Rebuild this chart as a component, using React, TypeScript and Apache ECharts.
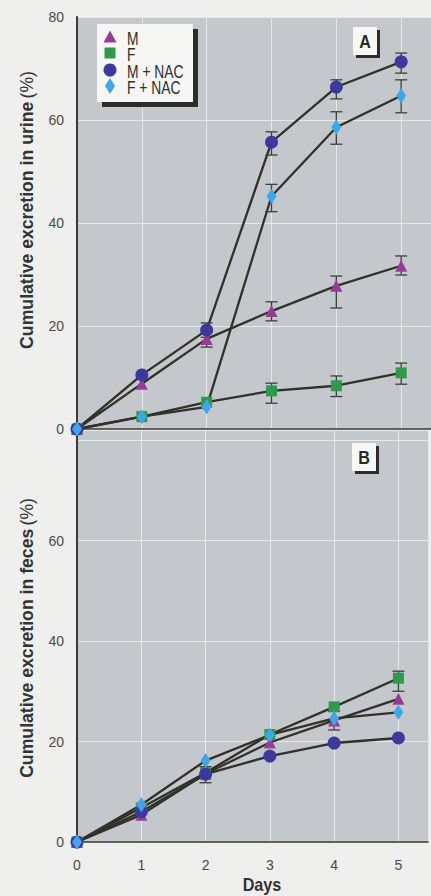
import React, { useEffect, useRef } from "react";
import * as echarts from "echarts";

// ---------- data ----------
const days = [0, 1, 2, 3, 4, 5];
const seriesNames = ["M", "F", "M + NAC", "F + NAC"];
const yTickStep = 20;

// Panel A: cumulative excretion in urine (%)
const urineM = [0, 8.8, 17.5, 22.9, 27.8, 31.7];
const urineMLow = [null, null, 15.9, 21.0, 23.5, 29.9];
const urineMHigh = [null, null, 18.8, 24.7, 29.7, 33.6];
const urineF = [0, 2.4, 5.2, 7.4, 8.4, 10.9];
const urineFLow = [null, null, null, 5.0, 6.3, 8.7];
const urineFHigh = [null, null, null, 8.9, 10.3, 12.8];
const urineMNAC = [0, 10.5, 19.2, 55.7, 66.4, 71.3];
const urineMNACLow = [null, null, 17.8, 53.2, 64.1, 69.1];
const urineMNACHigh = [null, null, 20.6, 57.7, 67.8, 73.0];
const urineFNAC = [0, 2.4, 4.3, 45.2, 58.6, 64.7];
const urineFNACLow = [null, null, null, 42.2, 55.3, 61.4];
const urineFNACHigh = [null, null, null, 47.5, 61.6, 67.8];

// Panel B: cumulative excretion in feces (%)
const fecesM = [0, 5.4, 13.6, 19.8, 24.2, 28.5];
const fecesMLow = [null, null, 11.8, null, 22.3, null];
const fecesMHigh = [null, null, 15.0, null, 26.0, null];
const fecesF = [0, 6.8, 13.8, 21.4, 26.9, 32.6];
const fecesFLow = [null, null, null, null, null, 30.0];
const fecesFHigh = [null, null, null, null, null, 34.0];
const fecesMNAC = [0, 6.0, 13.5, 17.1, 19.7, 20.7];
const fecesFNAC = [0, 7.4, 16.2, 21.3, 24.6, 25.8];

// ---------- styling ----------
const FONT = '"Liberation Sans", Arial, sans-serif';
const PLOT_BG = "#c4c7cb";
const GRID_LINE = "#e6e8ea";
const LINE = "#2e3229";
const AXIS = "#3a3d36";
const colors = ["#983a9a", "#2f9a4c", "#3b3a9c", "#3ea6ea"];
const symbols = ["triangle", "rect", "circle", "diamond"];
const symbolSizes: any[] = [12, 11, 13, [10, 15]];

function pairs(vals: number[]) {
  return days.map((d, i) => [d, vals[i]]);
}
function errData(lo: (number | null)[], hi: (number | null)[]) {
  const out: number[][] = [];
  days.forEach((d, i) => {
    if (lo[i] != null && hi[i] != null) out.push([d, lo[i] as number, hi[i] as number]);
  });
  return out;
}

function errorSeries(data: number[][], axis: number) {
  return {
    type: "custom",
    xAxisIndex: axis,
    yAxisIndex: axis,
    z: 3,
    silent: true,
    encode: { x: 0, y: [1, 2] },
    data,
    renderItem: (params: any, api: any) => {
      const x = api.value(0);
      const lo = api.coord([x, api.value(1)]);
      const hi = api.coord([x, api.value(2)]);
      const hw = 6;
      const st = { stroke: "#3c3f3a", lineWidth: 1.3 };
      return {
        type: "group",
        children: [
          { type: "line", shape: { x1: lo[0], y1: lo[1], x2: hi[0], y2: hi[1] }, style: st },
          { type: "line", shape: { x1: lo[0] - hw, y1: lo[1], x2: lo[0] + hw, y2: lo[1] }, style: st },
          { type: "line", shape: { x1: hi[0] - hw, y1: hi[1], x2: hi[0] + hw, y2: hi[1] }, style: st },
        ],
      };
    },
  };
}

function lineSeries(vals: number[], axis: number, name: string) {
  return {
    type: "line",
    name,
    xAxisIndex: axis,
    yAxisIndex: axis,
    data: pairs(vals),
    showSymbol: false,
    z: 2,
    silent: true,
    lineStyle: { color: LINE, width: 2.3 },
  };
}

function markerSeries(vals: number[], axis: number, k: number) {
  return {
    type: "scatter",
    name: seriesNames[k],
    xAxisIndex: axis,
    yAxisIndex: axis,
    data: pairs(vals),
    symbol: symbols[k],
    symbolSize: symbolSizes[k],
    z: 4 + k,
    itemStyle: { color: colors[k], opacity: 1 },
  };
}

function xAxis(gridIndex: number, showLabels: boolean) {
  return {
    type: "value",
    gridIndex,
    min: 0,
    max: 5.46,
    interval: 1,
    axisLine: { show: true, onZero: false, lineStyle: { color: AXIS, width: 1.6 } },
    axisTick: { show: false },
    splitLine: { show: true, lineStyle: { color: GRID_LINE, width: 1 } },
    axisLabel: {
      show: showLabels,
      margin: 16,
      fontFamily: FONT,
      fontSize: 14,
      color: "#4a4a48",
      formatter: (v: number) => (Number.isInteger(v) && v <= 5 ? String(v) : ""),
    },
  };
}

function yAxis(gridIndex: number, max: number, labelMax: number) {
  return {
    type: "value",
    gridIndex,
    min: 0,
    max,
    interval: yTickStep,
    axisLine: { show: true, onZero: false, lineStyle: { color: AXIS, width: 2 } },
    axisTick: { show: false },
    splitLine: { show: true, lineStyle: { color: GRID_LINE, width: 1 } },
    axisLabel: {
      margin: 13,
      fontFamily: FONT,
      fontSize: 14,
      color: "#4a4a48",
      formatter: (v: number) => (v % yTickStep === 0 && v <= labelMax ? String(v) : ""),
    },
  };
}

function panelLabel(letter: string, x: number, y: number) {
  return [
    { type: "rect", shape: { x: x + 3, y: y + 3, width: 24, height: 28 }, style: { fill: "#2a2d28" }, z: 20 },
    { type: "rect", shape: { x, y, width: 24, height: 28 }, style: { fill: "#f7f7f5" }, z: 21 },
    {
      type: "text",
      x: x + 12,
      y: y + 15,
      z: 22,
      scaleX: 0.85,
      style: { text: letter, fontFamily: FONT, fontWeight: "bold", fontSize: 19, fill: "#2a2a2a", align: "center", verticalAlign: "middle" },
    },
  ];
}

function axisTitle(main: string, x: number, y: number) {
  return {
    type: "text",
    x,
    y,
    rotation: Math.PI / 2,
    scaleX: 0.93,
    z: 20,
    style: {
      text: `{b|${main}} {n|(%)}`,
      align: "center",
      verticalAlign: "middle",
      rich: {
        b: { fontFamily: FONT, fontWeight: "bold", fontSize: 19, fill: "#333333" },
        n: { fontFamily: FONT, fontWeight: "normal", fontSize: 19, fill: "#333333" },
      },
    },
  };
}

function legendGraphics() {
  const x0 = 97, y0 = 24, w = 96, h = 78;
  const items: any[] = [
    { type: "rect", shape: { x: x0 + 5, y: y0 + 5, width: w, height: h }, style: { fill: "#2a2d28" }, z: 20 },
    { type: "rect", shape: { x: x0, y: y0, width: w, height: h }, style: { fill: "#f6f6f4" }, z: 21 },
  ];
  const rowsY = [37, 53, 70, 86];
  const cx = 110;
  rowsY.forEach((cy, k) => {
    let shape: any;
    if (k === 0) shape = { type: "polygon", shape: { points: [[cx, cy - 6.5], [cx + 6.5, cy + 5.5], [cx - 6.5, cy + 5.5]] } };
    else if (k === 1) shape = { type: "rect", shape: { x: cx - 5.5, y: cy - 5.5, width: 11, height: 11 } };
    else if (k === 2) shape = { type: "circle", shape: { cx, cy, r: 6.5 } };
    else shape = { type: "polygon", shape: { points: [[cx, cy - 8], [cx + 5, cy], [cx, cy + 8], [cx - 5, cy]] } };
    items.push({ ...shape, style: { fill: colors[k] }, z: 22 });
    items.push({
      type: "text",
      x: 127,
      y: cy + 1,
      z: 22,
      scaleX: 0.77,
      style: { text: seriesNames[k], fontFamily: FONT, fontSize: 18, fill: "#2f2f2f", align: "left", verticalAlign: "middle" },
    });
  });
  return items;
}

export default function App() {
  const ref = useRef<HTMLDivElement>(null);
  useEffect(() => {
    if (!ref.current) return;
    const chart = echarts.init(ref.current, undefined, { renderer: "svg" });
    const urine = [urineM, urineF, urineMNAC, urineFNAC];
    const feces = [fecesM, fecesF, fecesMNAC, fecesFNAC];
    const series: any[] = [];
    urine.forEach((v, k) => series.push(lineSeries(v, 0, "urine-line-" + k)));
    feces.forEach((v, k) => series.push(lineSeries(v, 1, "feces-line-" + k)));
    series.push(errorSeries(errData(urineMLow, urineMHigh), 0));
    series.push(errorSeries(errData(urineFLow, urineFHigh), 0));
    series.push(errorSeries(errData(urineMNACLow, urineMNACHigh), 0));
    series.push(errorSeries(errData(urineFNACLow, urineFNACHigh), 0));
    series.push(errorSeries(errData(fecesMLow, fecesMHigh), 1));
    series.push(errorSeries(errData(fecesFLow, fecesFHigh), 1));
    urine.forEach((v, k) => series.push(markerSeries(v, 0, k)));
    feces.forEach((v, k) => series.push(markerSeries(v, 1, k)));

    chart.setOption({
      animation: false,
      backgroundColor: "#efefed",
      grid: [
        { left: 77, right: 0, top: 17, height: 412, show: true, backgroundColor: PLOT_BG, borderWidth: 0 },
        { left: 77, right: 0, top: 430, height: 412, show: true, backgroundColor: PLOT_BG, borderWidth: 0 },
      ],
      xAxis: [xAxis(0, false), xAxis(1, true)],
      yAxis: [yAxis(0, 80, 80), yAxis(1, 82, 60)],
      series,
      graphic: [
        ...legendGraphics(),
        ...panelLabel("A", 353, 27),
        ...panelLabel("B", 352, 443),
        axisTitle("Cumulative excretion in urine", 26, 210),
        axisTitle("Cumulative excretion in feces", 26, 638),
        {
          type: "text",
          x: 262,
          y: 885,
          z: 20,
          scaleX: 0.9,
          style: { text: "Days", fontFamily: FONT, fontWeight: "bold", fontSize: 18, fill: "#333333", align: "center", verticalAlign: "middle" },
        },
      ],
    });
    return () => chart.dispose();
  }, []);
  return <div ref={ref} style={{ position: "absolute", left: 0, top: 0, width: 431, height: 896 }} />;
}
